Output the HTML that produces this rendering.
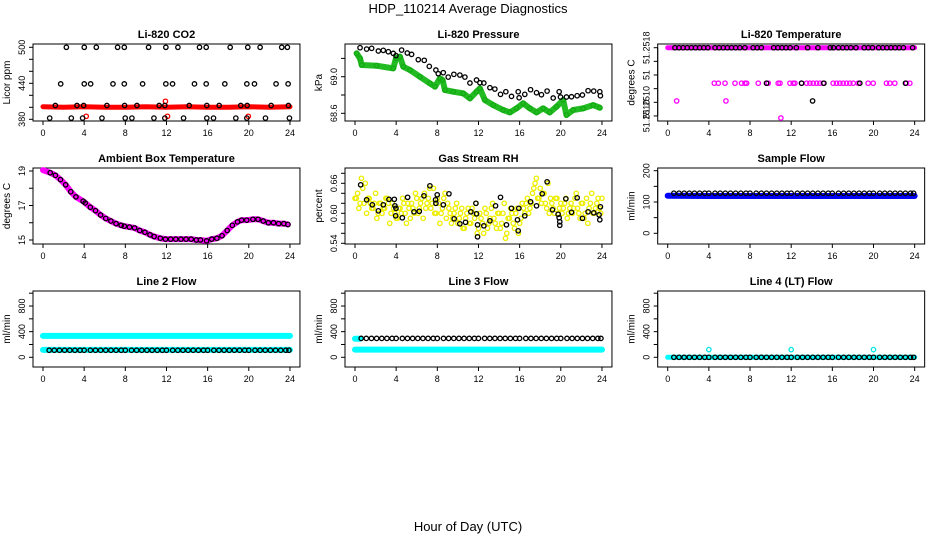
<!DOCTYPE html>
<html><head><meta charset="utf-8"><style>
html,body{margin:0;padding:0;background:#fff;}
svg{display:block;font-family:"Liberation Sans",sans-serif;}
</style></head><body>
<svg id="chart" width="936" height="540" viewBox="0 0 936 540" xmlns="http://www.w3.org/2000/svg">
<text x="468" y="13" text-anchor="middle" font-size="13">HDP_110214  Average Diagnostics</text>
<text x="468" y="531" text-anchor="middle" font-size="13">Hour of Day (UTC)</text>
</svg>
<script>
// ---- CO2 ----
const co2BlackHours=[2.27,4.01,5.18,7.25,7.90,10.26,11.94,13.11,15.21,15.86,18.19,19.90,21.10,23.20,23.75,1.72,4.01,4.63,6.80,7.90,9.68,11.94,12.59,14.72,15.86,17.67,19.81,20.55,22.65,23.82,1.20,3.30,3.95,6.21,7.93,9.13,11.29,11.84,14.21,15.92,17.12,19.22,19.84,22.17,23.85,0.65,2.75,3.85,5.73,7.99,8.64,10.78,11.84,13.66,15.92,16.57,18.74,19.81,21.62,23.95];
const co2BlackValues=[500,500,500,500,500,500,500,500,500,500,500,500,500,500,500,439,439,439,439,439,439,439,439,439,439,439,439,439,439,439,403,403,403,403,403,403,403,403,403,403,403,403,403,403,403,382,382,382,382,382,382,382,382,382,382,382,382,382,382,382];
const co2RedHours=[0,2,4,6,8,10,12,14,16,18,20,22,24];
const co2RedValues=[401,400,401,400,400,401,400,401,400,400,401,400,401];
const co2RedOutHours=[4.2,11.9,12.1,19.95];
const co2RedOutValues=[385,410,385,385];
// ---- Pressure ----
const presBlackHours=[0.49,1.13,1.62,2.27,2.75,3.24,3.72,3.98,4.53,5.08,5.50,6.15,6.73,7.22,7.86,8.09,8.58,9.06,9.61,10.19,10.68,11.17,11.81,12.14,12.52,13.11,13.59,14.14,14.66,15.21,15.86,15.95,16.50,17.06,17.64,18.12,18.67,19.26,19.84,19.97,20.55,21.04,21.59,22.10,22.65,23.20,23.79,23.85];
const presBlackValues=[69.317,69.302,69.310,69.281,69.288,69.273,69.255,69.230,69.291,69.259,69.244,69.186,69.179,69.113,69.073,69.033,69.044,68.996,69.026,69.018,68.996,68.931,68.964,68.934,68.931,68.880,68.865,68.807,68.836,68.785,68.836,68.770,68.807,68.858,68.825,68.803,68.843,68.767,68.836,68.778,68.778,68.781,68.792,68.800,68.847,68.843,68.836,68.792];
const presGreenHours=[0.16,0.49,0.65,2.10,3.72,3.98,4.37,4.69,5.34,6.31,7.28,7.77,8.25,8.51,8.74,9.55,10.52,11.17,11.81,12.14,12.62,13.43,14.40,15.05,15.70,16.34,16.99,17.64,18.28,18.93,19.58,20.23,20.55,21.20,22.17,23.14,23.79];
const presGreenValues=[69.255,69.200,69.128,69.120,69.091,69.200,69.219,69.109,69.073,69.000,68.927,68.891,68.982,68.964,68.854,68.836,68.818,68.763,68.836,68.872,68.745,68.690,68.636,68.610,68.654,68.709,68.654,68.610,68.654,68.610,68.672,68.745,68.581,68.636,68.654,68.690,68.661];
// ---- Li-820 temperature ----
const tempTopHours=[0.7,1.1,1.5,1.9,2.3,2.7,3.1,3.5,3.9,4.6,5.0,5.4,5.8,6.2,6.6,7.0,7.5,8.3,8.7,9.1,10.3,10.7,11.1,11.5,11.9,12.5,13.6,14.6,15.8,16.1,16.6,17.0,17.4,17.8,18.3,19.1,19.5,19.9,20.5,20.9,21.3,21.7,22.1,22.5,22.9,23.8];
const tempTopValue=51.2518;
const tempBandHours=[0,24];
const tempBandValues=[51.2518,51.2518];
const tempMagHours=[4.53,4.92,5.57,6.54,7.18,7.51,7.67,8.80,9.61,9.77,10.74,10.91,11.88,12.20,12.36,13.01,13.50,13.82,14.14,14.47,14.79,15.11,16.08,16.41,16.73,17.05,17.38,17.70,18.03,18.51,19.48,19.97,21.26,21.59,22.07,23.20,23.53,0.87,5.66,11.0];
const tempMagValues=[51.25128,51.25128,51.25128,51.25128,51.25128,51.25128,51.25128,51.25128,51.25128,51.25128,51.25128,51.25128,51.25128,51.25128,51.25128,51.25128,51.25128,51.25128,51.25128,51.25128,51.25128,51.25128,51.25128,51.25128,51.25128,51.25128,51.25128,51.25128,51.25128,51.25128,51.25128,51.25128,51.25128,51.25128,51.25128,51.25128,51.25128,51.25102,51.25102,51.25077];
const tempBlackMidHours=[9.61,13.01,15.18,18.67,23.11,14.08];
const tempBlackMidValues=[51.25128,51.25128,51.25128,51.25128,51.25128,51.25102];
// ---- Ambient ----
const ambHours=[0.7,1.2,1.7,2.2,2.7,3.2,3.9,4.1,4.6,5.1,5.6,6.1,6.6,7.1,7.6,7.9,8.4,8.9,9.4,9.9,10.4,10.8,11.4,11.9,12.4,12.9,13.4,13.9,14.4,14.9,15.3,15.9,16.4,16.9,17.4,17.9,18.4,18.9,19.3,19.8,20.4,20.9,21.4,21.9,22.4,22.9,23.4,23.8];
const ambValues=[18.9,18.75,18.5,18.2,17.8,17.5,17.25,17.15,16.9,16.7,16.45,16.25,16.1,15.95,15.85,15.8,15.75,15.7,15.55,15.45,15.3,15.2,15.1,15.05,15.05,15.05,15.05,15.05,15.05,15.0,15.0,14.95,15.05,15.1,15.25,15.55,15.85,16.05,16.15,16.15,16.2,16.2,16.1,16.0,16.0,15.95,15.95,15.9];
// ---- RH ----
const rhBlackHours=[0.55,1.13,1.68,2.27,2.75,3.30,3.82,3.88,3.98,3.95,4.60,5.11,5.73,6.25,6.70,7.28,7.83,7.86,7.99,8.58,9.13,9.64,10.19,10.74,11.26,11.75,11.81,11.91,11.91,12.52,13.11,13.66,14.14,14.72,15.21,15.79,15.92,15.86,16.50,17.06,17.64,18.19,18.67,19.19,19.74,19.84,19.90,19.90,20.49,21.04,21.59,22.10,22.65,23.20,23.72,23.79,23.85];
const rhBlackValues=[0.657,0.627,0.617,0.605,0.617,0.628,0.628,0.615,0.610,0.595,0.591,0.632,0.603,0.604,0.635,0.655,0.627,0.620,0.637,0.617,0.639,0.589,0.579,0.582,0.603,0.620,0.599,0.577,0.553,0.575,0.585,0.615,0.632,0.577,0.610,0.587,0.610,0.565,0.595,0.623,0.615,0.639,0.663,0.607,0.598,0.591,0.583,0.576,0.629,0.602,0.631,0.590,0.603,0.601,0.597,0.587,0.613];
const rhYellowA=[0.63,0.64,0.62,0.65,0.66,0.63,0.62,0.61,0.64,0.60,0.62,0.61,0.63,0.62,0.60,0.61,0.59,0.61,0.60,0.62,0.58,0.61,0.62,0.60,0.63,0.61,0.63,0.64,0.62,0.65,0.62,0.60,0.63,0.58,0.61,0.64,0.62,0.60,0.59,0.61,0.58,0.60,0.57,0.59,0.61,0.58,0.60,0.62,0.57,0.59,0.56,0.60,0.58,0.61,0.59,0.57,0.60,0.58,0.62,0.56,0.59,0.60,0.57,0.61,0.58,0.62,0.60,0.63,0.61,0.64,0.66,0.63,0.65,0.64,0.62,0.66,0.63,0.61,0.63,0.60,0.62,0.61,0.63,0.60,0.62,0.61,0.64,0.60,0.62,0.59,0.63,0.61,0.64,0.60,0.62,0.61,0.63];
const rhYellowB=[0.63,0.61,0.67,0.62,0.60,0.63,0.61,0.62,0.59,0.62,0.60,0.61,0.63,0.58,0.62,0.60,0.59,0.61,0.63,0.60,0.62,0.59,0.61,0.64,0.60,0.62,0.59,0.61,0.63,0.61,0.65,0.60,0.62,0.60,0.63,0.59,0.61,0.58,0.60,0.62,0.59,0.61,0.57,0.60,0.58,0.61,0.59,0.56,0.60,0.58,0.61,0.57,0.59,0.62,0.58,0.60,0.57,0.60,0.55,0.59,0.61,0.58,0.60,0.56,0.59,0.61,0.62,0.60,0.62,0.65,0.67,0.63,0.62,0.64,0.61,0.60,0.62,0.60,0.63,0.61,0.60,0.62,0.59,0.61,0.60,0.63,0.61,0.59,0.62,0.60,0.58,0.62,0.60,0.61,0.63,0.60];
// ---- Sample flow ----
const sfBlueHours=[0,4,8,12,16,20,24];
const sfBlueValues=[120,119,119,119,119,119,119];
const sfBlackValue=128;
// ---- Line flows ----
const l2CyanHighHours=[0,24]; const l2CyanHighValues=[335,335];
const l2CyanLowHours=[0,24]; const l2CyanLowValues=[115,115];
const l2BlackValue=110;
const l3CyanHighHours=[0,0.5]; const l3CyanHighValues=[290,290];
const l3CyanLowHours=[0,24]; const l3CyanLowValues=[120,120];
const l3BlackValue=295;
const l4CyanHours=[0,24]; const l4CyanValues=[0,0];
const l4SpikeHours=[4,12,20]; const l4SpikeValues=[120,120,120];
const l4BlackValue=0;
const blackHourly=[0.6,1.1,1.6,2.1,2.6,3.1,3.6,4.0,4.6,5.1,5.6,6.1,6.6,7.1,7.6,8.0,8.6,9.1,9.6,10.1,10.6,11.1,11.6,12.0,12.6,13.1,13.6,14.1,14.6,15.1,15.6,16.0,16.6,17.1,17.6,18.1,18.6,19.1,19.6,20.0,20.6,21.1,21.6,22.1,22.6,23.1,23.6,23.9];
const xTicks=[0,4,8,12,16,20,24];

const NS="http://www.w3.org/2000/svg";
const svg=document.getElementById('chart');
const COLX0=[43,355,667.7], HPX=10.29;
const ROWTOP=[44,168,291], ROWBOT=[121,244,367];
function el(tag,attrs,parent){const e=document.createElementNS(NS,tag);for(const k in attrs)e.setAttribute(k,attrs[k]);(parent||svg).appendChild(e);return e;}

function panel(ci,ri,name,title,ylab,v0,p0,ppu,ticks,labels){
  const g=el('g',{});
  
  
  const sx=h=>COLX0[ci]+h*HPX, sy=v=>p0-(v-v0)*ppu;
  const L=COLX0[ci]-10, R=COLX0[ci]+24*HPX+10, T=ROWTOP[ri], B=ROWBOT[ri];
  const box=el('rect',{x:L,y:T,width:R-L,height:B-T,fill:'none',stroke:'#000','stroke-width':1},g);
  
  
  const t=el('text',{x:(L+R)/2,y:T-6,'text-anchor':'middle','font-size':11,'font-weight':'bold'},g);
  t.textContent=title;
  
  
  const yl=el('text',{x:0,y:0,'text-anchor':'middle','font-size':10,transform:`translate(${L-23},${(T+B)/2}) rotate(-90)`},g);
  yl.textContent=ylab;
  
  
  const xa=el('g',{},g);
  
  
  el('line',{x1:sx(0),x2:sx(24),y1:B,y2:B,stroke:'#000'},xa);
  xTicks.forEach(h=>{el('line',{x1:sx(h),x2:sx(h),y1:B,y2:B+4,stroke:'#000'},xa);
    const tx=el('text',{x:sx(h),y:B+15,'text-anchor':'middle','font-size':9},xa);tx.textContent=h;});
  const ya=el('g',{},g);
  
  
  el('line',{x1:L,x2:L,y1:sy(ticks[0]),y2:sy(ticks[ticks.length-1]),stroke:'#000'},ya);
  ticks.forEach((v,i)=>{el('line',{x1:L-4,x2:L,y1:sy(v),y2:sy(v),stroke:'#000'},ya);
    if(labels[i]){const tx=el('text',{x:0,y:0,'text-anchor':'middle','font-size':9,transform:`translate(${L-8},${sy(v)}) rotate(-90)`},ya);tx.textContent=labels[i];}});
  return {g,sx,sy};
}
function pts(P,hs,vs,col,name,r){
  const g=el('g',{},P.g);
  
  
  hs.forEach((h,i)=>{const v=Array.isArray(vs)?vs[i]:vs;el('circle',{cx:P.sx(h),cy:P.sy(v),r:r||2.2,fill:'none',stroke:col,'stroke-width':1.3},g);});
}
function band(P,hs,vs,col,name,w){
  const p=el('polyline',{points:hs.map((h,i)=>P.sx(h)+','+P.sy(vs[i])).join(' '),fill:'none',stroke:col,'stroke-width':w,'stroke-linecap':'round','stroke-linejoin':'round'},P.g);
  
  
}

// CO2
let P=panel(0,0,'co2','Li-820 CO2','Licor ppm',380,119.3,0.6,[380,400,420,440,460,480,500],['380','','','440','','','500']);
band(P,co2RedHours,co2RedValues,'#f00','co2-red-band',5);
pts(P,co2RedOutHours,co2RedOutValues,'#f00','co2-red-points');
pts(P,co2BlackHours,co2BlackValues,'#000','co2-black-points');
// Pressure
P=panel(1,0,'pressure','Li-820 Pressure','kPa',69.0,76.7,91.5,[68.6,68.8,69.0,69.2],['68.6','','69.0','']);
band(P,presGreenHours,presGreenValues,'#22bb22','pressure-green-band',6);
pts(P,presGreenHours,presGreenValues,'#11aa11','pressure-green-points');
pts(P,presBlackHours,presBlackValues,'#000','pressure-black-points');
// Temperature
P=panel(2,0,'li820-temp','Li-820 Temperature','degrees C',51.2518,47.7,68250,[51.2508,51.2510,51.2512,51.2514,51.2516,51.2518],['51.2510','51.2510','','51','','51.2518']);
band(P,tempBandHours,tempBandValues,'#ff00ff','temp-magenta-band',5);
pts(P,tempMagHours,tempMagValues,'#ff00ff','temp-magenta-points');
pts(P,tempTopHours,tempTopValue,'#000','temp-black-top-points');
pts(P,tempBlackMidHours,tempBlackMidValues,'#000','temp-black-points');
// Ambient
P=panel(0,1,'ambient','Ambient Box Temperature','degrees C',15,240,17.25,[15,16,17,18,19],['15','','17','','19']);
band(P,[0].concat(ambHours),[19.05].concat(ambValues),'#ff00ff','ambient-magenta-band',6);
pts(P,ambHours,ambValues,'#000','ambient-black-points');
// RH
P=panel(1,1,'rh','Gas Stream RH','percent',0.66,183.3,500,[0.54,0.56,0.58,0.60,0.62,0.64,0.66,0.68],['0.54','','','0.60','','','0.66','']);
pts(P,rhYellowA.map((v,i)=>i*0.25),rhYellowA,'#eeee00','rh-yellow-points-a');
pts(P,rhYellowB.map((v,i)=>0.125+i*0.25),rhYellowB,'#eeee00','rh-yellow-points-b');
pts(P,rhBlackHours,rhBlackValues,'#000','rh-black-points');
// Sample flow
P=panel(2,1,'sample-flow','Sample Flow','ml/min',0,233.3,0.313,[0,50,100,150,200],['0','','100','','200']);
band(P,sfBlueHours,sfBlueValues,'#0000ff','sample-flow-blue-band',6);
pts(P,blackHourly,sfBlackValue,'#000','sample-flow-black-points');
// Line 2
const fT=[0,200,400,600,800,1000], fL=['0','','400','','800',''];
P=panel(0,2,'line2','Line 2 Flow','ml/min',0,357.3,0.0641,fT,fL);
band(P,l2CyanHighHours,l2CyanHighValues,'#00ffff','line2-cyan-high',6);
band(P,l2CyanLowHours,l2CyanLowValues,'#00ffff','line2-cyan-low',6);
pts(P,blackHourly,l2BlackValue,'#000','line2-black-points');
// Line 3
P=panel(1,2,'line3','Line 3 Flow','ml/min',0,357.3,0.0641,fT,fL);
band(P,l3CyanLowHours,l3CyanLowValues,'#00ffff','line3-cyan-low',6);
band(P,l3CyanHighHours,l3CyanHighValues,'#00ffff','line3-cyan-high',6);
pts(P,blackHourly,l3BlackValue,'#000','line3-black-points');
// Line 4
P=panel(2,2,'line4','Line 4 (LT) Flow','ml/min',0,357.3,0.0641,fT,fL);
band(P,l4CyanHours,l4CyanValues,'#00ffff','line4-cyan-band',5);
pts(P,blackHourly,l4BlackValue,'#000','line4-black-points');
pts(P,l4SpikeHours,l4SpikeValues,'#00e5e5','line4-cyan-spikes');
</script>
</body></html>
